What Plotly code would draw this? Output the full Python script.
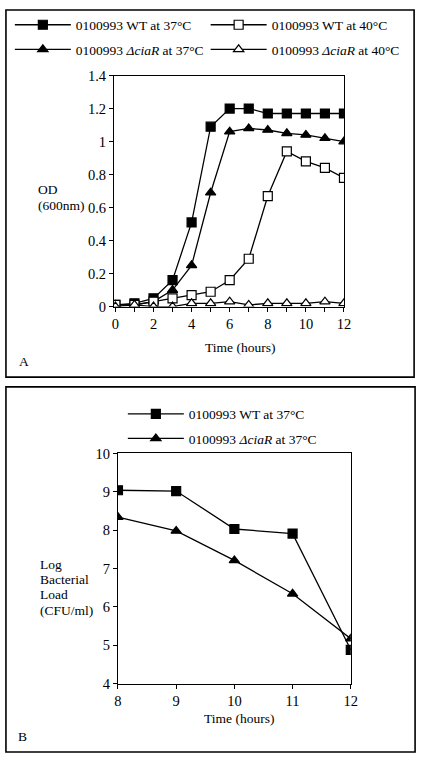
import plotly.graph_objects as go

# ---------------- data ----------------
hours_a = [0, 1, 2, 3, 4, 5, 6, 7, 8, 9, 10, 11, 12]
wt_37 = [0.01, 0.02, 0.05, 0.16, 0.51, 1.09, 1.20, 1.20, 1.17, 1.17, 1.17, 1.17, 1.17]
cia_37 = [0.01, 0.01, 0.03, 0.10, 0.25, 0.69, 1.06, 1.08, 1.07, 1.05, 1.04, 1.02, 1.00]
wt_40 = [0.01, 0.01, 0.03, 0.05, 0.07, 0.09, 0.16, 0.29, 0.67, 0.94, 0.88, 0.84, 0.78]
cia_40 = [0.00, 0.01, 0.00, 0.00, 0.02, 0.02, 0.03, 0.01, 0.02, 0.02, 0.02, 0.03, 0.02]

hours_b = [8, 9, 10, 11, 12]
wt_37_load = [9.04, 9.02, 8.03, 7.91, 4.88]
cia_37_load = [8.34, 7.98, 7.21, 6.34, 5.17]

ticks_a_x = [0, 1, 2, 3, 4, 5, 6, 7, 8, 9, 10, 11, 12]
ticktext_a_x = ["0", "", "2", "", "4", "", "6", "", "8", "", "10", "", "12"]
ticks_a_y = [0, 0.2, 0.4, 0.6, 0.8, 1, 1.2, 1.4]
ticks_b_x = [8, 9, 10, 11, 12]
ticks_b_y = [4, 5, 6, 7, 8, 9, 10]

name_wt37 = "0100993 WT at 37°C"
name_wt40 = "0100993 WT at 40°C"
name_cia37 = "0100993 <i>ΔciaR</i> at 37°C"
name_cia40 = "0100993 <i>ΔciaR</i> at 40°C"

ylabel_a_lines = ["OD", "(600nm)"]
ylabel_b_lines = ["Log", "Bacterial", "Load", "(CFU/ml)"]

W, H = 425, 763
FONT = "Liberation Serif, Times New Roman, serif"
FS = 13.5
TFS = 14.5
IW = 56


def px(x):
    return x / W


def py(y):
    return 1 - y / H


def mk(symbol, filled):
    return dict(symbol=symbol, size=9,
                color="black" if filled else "white",
                line=dict(color="black", width=1.2))


fig = go.Figure()

series_a = [
    (wt_37, name_wt37, "square", True, "legend", "g1"),
    (cia_37, name_cia37, "triangle-up", True, "legend", "g2"),
    (wt_40, name_wt40, "square", False, "legend3", "g3"),
    (cia_40, name_cia40, "triangle-up", False, "legend3", "g4"),
]
for vals, nm, sym, filled, lg, grp in series_a:
    fig.add_trace(go.Scatter(
        x=hours_a, y=vals, name=nm, mode="lines+markers",
        line=dict(color="black", width=1.3), marker=mk(sym, filled),
        xaxis="x", yaxis="y", legend=lg, legendgroup=grp))

series_b = [
    (wt_37_load, name_wt37, "square", True, "b1"),
    (cia_37_load, name_cia37, "triangle-up", True, "b2"),
]
for vals, nm, sym, filled, grp in series_b:
    fig.add_trace(go.Scatter(
        x=hours_b, y=vals, name=nm, mode="lines+markers",
        line=dict(color="black", width=1.3), marker=mk(sym, filled),
        xaxis="x2", yaxis="y2", legend="legend2", legendgroup=grp))

axis_common = dict(showline=True, linecolor="black", linewidth=1.3, mirror=True,
                   ticks="outside", ticklen=4, tickwidth=1.2, tickcolor="black",
                   showgrid=False, zeroline=False,
                   tickfont=dict(family=FONT, size=TFS, color="black"))

legend_common = dict(xanchor="left", yanchor="top", bgcolor="rgba(0,0,0,0)",
                     itemwidth=IW, font=dict(family=FONT, size=FS, color="black"))

fig.update_layout(
    width=W, height=H,
    margin=dict(l=0, r=0, t=0, b=0),
    paper_bgcolor="white", plot_bgcolor="white",
    font=dict(family=FONT, size=FS, color="black"),
    xaxis=dict(domain=[px(113), px(349)], range=[-0.07, 12], anchor="y",
               tickmode="array", tickvals=ticks_a_x, ticktext=ticktext_a_x, **axis_common),
    yaxis=dict(domain=[py(305), py(69)], range=[0, 1.4], anchor="x",
               tickmode="array", tickvals=ticks_a_y, **axis_common),
    xaxis2=dict(domain=[px(117), px(356)], range=[8, 12], anchor="y2",
                tickmode="array", tickvals=ticks_b_x, **axis_common),
    yaxis2=dict(domain=[py(690), py(455)], range=[4, 10], anchor="x2",
                tickmode="array", tickvals=ticks_b_y, **axis_common),
    legend=dict(x=px(6), y=py(1.5), tracegroupgap=4, **legend_common),
    legend3=dict(x=px(207), y=py(1.5), tracegroupgap=4, **legend_common),
    legend2=dict(x=px(122), y=py(399), tracegroupgap=4, **legend_common),
    showlegend=True,
)

# outer panel frames
fig.add_shape(type="rect", xref="paper", yref="paper",
              x0=px(2), x1=px(421), y0=py(377), y1=py(2),
              line=dict(color="black", width=1.6), fillcolor="rgba(0,0,0,0)")
fig.add_shape(type="rect", xref="paper", yref="paper",
              x0=px(2), x1=px(422), y0=py(760), y1=py(387),
              line=dict(color="black", width=1.6), fillcolor="rgba(0,0,0,0)")

ann = dict(xref="paper", yref="paper", showarrow=False,
           font=dict(family=FONT, size=FS, color="black"))
for txt, yy in zip(ylabel_a_lines, [185, 202]):
    fig.add_annotation(text=txt, x=px(33), y=py(yy), xanchor="left",
                       yanchor="middle", **ann)
for txt, yy in zip(ylabel_b_lines, [568, 584, 599.5, 615]):
    fig.add_annotation(text=txt, x=px(35), y=py(yy), xanchor="left",
                       yanchor="middle", **ann)
fig.add_annotation(text="Time (hours)", x=px(242), y=py(347), xanchor="center",
                   yanchor="middle", **ann)
fig.add_annotation(text="A", x=px(13), y=py(361), xanchor="left", yanchor="middle", **ann)
fig.add_annotation(text="Time (hours)", x=px(241), y=py(726), xanchor="center",
                   yanchor="middle", **ann)
fig.add_annotation(text="B", x=px(12), y=py(744), xanchor="left", yanchor="middle", **ann)

fig.write_html("out.html",
               config={"displayModeBar": False},
               post_script="document.body.style.margin='0';"
                           "document.body.style.overflow='hidden';")
